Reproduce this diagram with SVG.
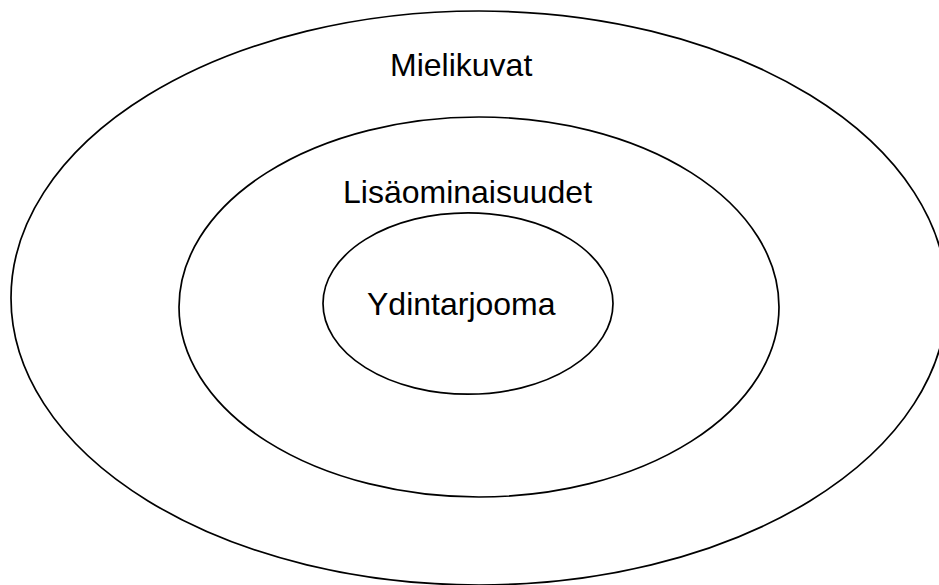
<svg xmlns="http://www.w3.org/2000/svg" width="939" height="585" viewBox="0 0 939 585">
<style>
.ring{fill:none;stroke:#000;stroke-width:1.7}
.lbl{font-family:"Liberation Sans",Arial,sans-serif;font-size:32px;fill:#000}
</style>
<rect width="939" height="585" fill="#fff"/>
<g id="mielikuvat">
<ellipse class="ring" cx="479" cy="298" rx="468" ry="287"/>
<text class="lbl" x="390" y="76">Mielikuvat</text>
</g>
<g id="lisaominaisuudet">
<ellipse class="ring" cx="479" cy="307" rx="300" ry="190"/>
<text class="lbl" x="343" y="203">Lisäominaisuudet</text>
</g>
<g id="ydintarjooma">
<ellipse class="ring" cx="468" cy="303.5" rx="145" ry="90.7"/>
<text class="lbl" x="367" y="315">Ydintarjooma</text>
</g>
<g id="connectors"/>
</svg>
